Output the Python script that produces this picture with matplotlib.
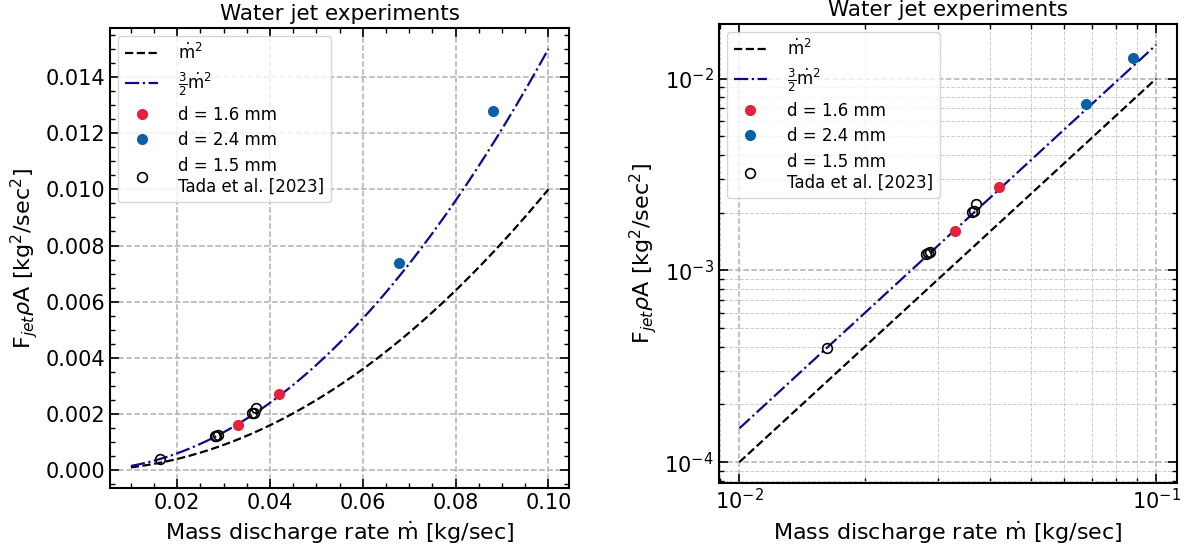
import numpy as np
import matplotlib
matplotlib.use("Agg")
import matplotlib.pyplot as plt
from matplotlib.ticker import AutoMinorLocator

# ---- data ----
m_red = [0.0330, 0.0420]
F_red = [0.00161, 0.00273]
m_blue = [0.0679, 0.0880]
F_blue = [0.00738, 0.0128]
m_tada = [0.0162, 0.0281, 0.0284, 0.0287, 0.0362, 0.0365, 0.0369]
F_tada = [0.000396, 0.00122, 0.00123, 0.00124, 0.00202, 0.00204, 0.00222]

m_range = [0.01, 0.1]
m_curve = np.linspace(m_range[0], m_range[1], 200)
theory_1 = m_curve ** 2
theory_32 = 1.5 * m_curve ** 2

title = "Water jet experiments"
xlabel = r"Mass discharge rate $\dot{\mathrm{m}}$ [kg/sec]"
ylabel = r"F$_{jet}\rho$A [kg$^2$/sec$^2$]"
lab_1 = r"$\dot{\mathrm{m}}^2$"
lab_32 = r"$\frac{3}{2}\dot{\mathrm{m}}^2$"
lab_red = "d = 1.6 mm"
lab_blue = "d = 2.4 mm"
lab_tada = "d = 1.5 mm\nTada et al. [2023]"

RED = "#e3223f"
BLUE = "#0b5ea8"
NAVY = "#0b0b8c"

fig = plt.figure(figsize=(11.89, 5.49), dpi=100)
ax1 = fig.add_axes([0.0925, 0.1106, 0.3863, 0.8384])
ax2 = fig.add_axes([0.6043, 0.1202, 0.3856, 0.8360])


def draw(ax):
    ax.plot(m_curve, theory_1, ls="--", color="black", lw=1.6, label=lab_1)
    ax.plot(m_curve, theory_32, ls="-.", color=NAVY, lw=1.6, label=lab_32)
    ax.plot(m_red, F_red, "o", color=RED, ms=7, ls="none", label=lab_red)
    ax.plot(m_blue, F_blue, "o", color=BLUE, ms=7, ls="none", label=lab_blue)
    ax.plot(m_tada, F_tada, "o", mfc="none", mec="black", mew=1.2, ms=7,
            ls="none", label=lab_tada)
    ax.set_title(title, fontsize=15.5)
    ax.set_xlabel(xlabel, fontsize=16)
    ax.set_ylabel(ylabel, fontsize=16)
    ax.tick_params(which="both", direction="in", top=True, right=True,
                   labelsize=15)
    ax.tick_params(which="major", length=6.5, width=1.2)
    ax.tick_params(which="minor", length=3.5, width=1.0)
    for s in ax.spines.values():
        s.set_linewidth(1.5)
    leg = ax.legend(loc="upper left", fontsize=12, handlelength=2.0,
                    handletextpad=1.2, labelspacing=0.45)
    return leg


draw(ax1)
ax1.xaxis.set_minor_locator(AutoMinorLocator(4))
ax1.yaxis.set_minor_locator(AutoMinorLocator(4))
ax1.set_xticks([0.02, 0.04, 0.06, 0.08, 0.10])
ax1.set_yticks([0.000, 0.002, 0.004, 0.006, 0.008, 0.010, 0.012, 0.014])
ax1.grid(True, which="major", ls="--", color="#b0b0b0", lw=1.1)

draw(ax2)
ax2.set_xscale("log")
ax2.set_yscale("log")
ax2.grid(True, which="major", ls="--", color="#b0b0b0", lw=1.1)
ax2.grid(True, which="minor", ls="--", color="#cccccc", lw=0.7)

fig.savefig("out.png", dpi=100)
